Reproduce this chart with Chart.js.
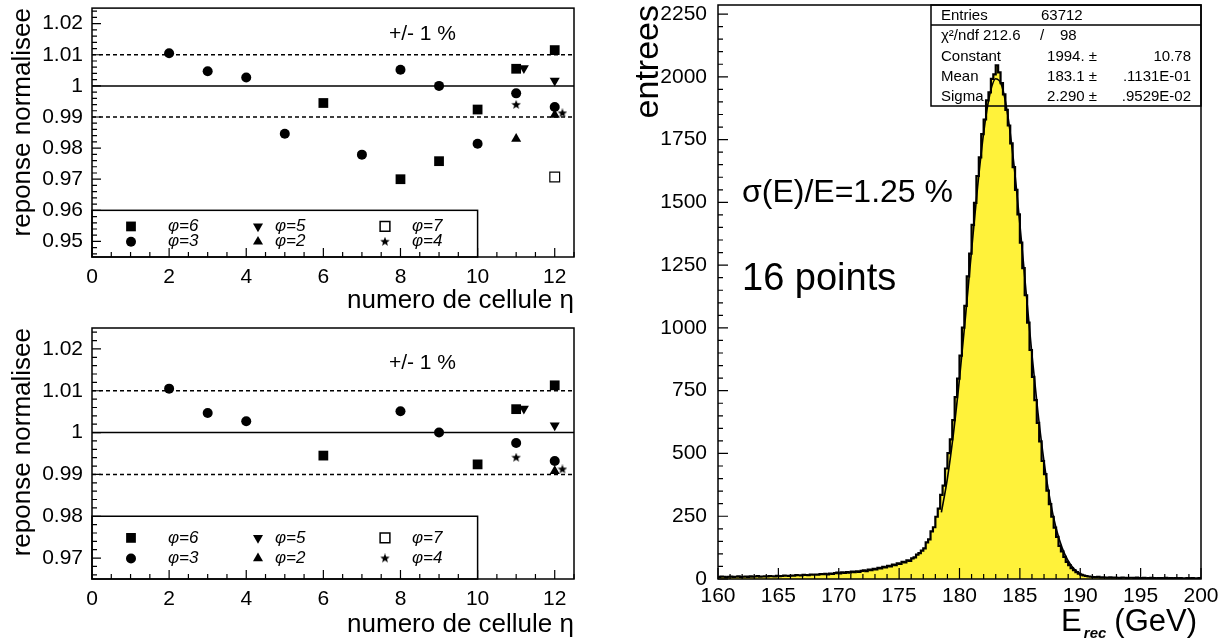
<!DOCTYPE html>
<html>
<head>
<meta charset="utf-8">
<script src="https://cdn.jsdelivr.net/npm/chart.js@4.4.1/dist/chart.umd.min.js"></script>
<style>
  body { margin: 0; background: #fff; }
  #wrap { position: relative; width: 1224px; height: 640px; overflow: hidden; }
  .panel { position: absolute; }
</style>
</head>
<body>
<div id="wrap">
  <div class="panel" style="left:0;top:0;width:600px;height:318px"><canvas id="topChart"></canvas></div>
  <div class="panel" style="left:0;top:320px;width:600px;height:320px"><canvas id="bottomChart"></canvas></div>
  <div class="panel" style="left:600px;top:0;width:624px;height:640px"><canvas id="histChart"></canvas></div>
</div>
<script>
const FONT = "'Liberation Sans', Arial, Helvetica, sans-serif";

// --- eta scan, all cells (top panel) ---
const topPhi6X = [6, 8, 9, 10, 11, 12];
const topPhi6Y = [0.9945, 0.9700, 0.9758, 0.9924, 1.0055, 1.0115];
const topPhi5X = [11.2, 12];
const topPhi5Y = [1.0057, 1.0017];
const topPhi7X = [12];
const topPhi7Y = [0.9707];
const topPhi3X = [2, 3, 4, 5, 7, 8, 9, 10, 11, 12];
const topPhi3Y = [1.0105, 1.0047, 1.0027, 0.9846, 0.9779, 1.0052, 1.0000, 0.9814, 0.9976, 0.9932];
const topPhi2X = [11, 12];
const topPhi2Y = [0.9830, 0.9907];
const topPhi4X = [11, 12.2];
const topPhi4Y = [0.9939, 0.9912];

// --- eta scan, retained cells (bottom panel) ---
const botPhi6X = [6, 10, 11, 12];
const botPhi6Y = [0.9945, 0.9924, 1.0056, 1.0113];
const botPhi5X = [11.2, 12];
const botPhi5Y = [1.0057, 1.0017];
const botPhi7X = [];
const botPhi7Y = [];
const botPhi3X = [2, 3, 4, 8, 9, 11, 12];
const botPhi3Y = [1.0105, 1.0047, 1.0027, 1.0051, 1.0000, 0.9975, 0.9932];
const botPhi2X = [12];
const botPhi2Y = [0.9908];
const botPhi4X = [11, 12.2];
const botPhi4Y = [0.9940, 0.9912];

const etaTicks = [0, 2, 4, 6, 8, 10, 12];
const respTicksTop = [0.95, 0.96, 0.97, 0.98, 0.99, 1, 1.01, 1.02];
const respTicksBot = [0.97, 0.98, 0.99, 1, 1.01, 1.02];
const nominal = 1.0;
const band = 0.01;

// --- reconstructed energy histogram, 0.2 GeV bins from 160 to 200 ---
const histMin = 160;
const histMax = 200;
const binWidth = 0.2;
const counts = [
  8, 10, 9, 7, 9, 10, 8, 9, 11, 8,
  9, 10, 8, 11, 9, 10, 12, 9, 10, 11,
  10, 12, 11, 10, 13, 11, 12, 14, 13, 12,
  14, 13, 16, 15, 14, 17, 16, 15, 18, 17,
  18, 17, 20, 19, 21, 18, 22, 20, 23, 25,
  22, 26, 24, 27, 25, 29, 27, 30, 28, 32,
  34, 31, 37, 35, 40, 38, 44, 42, 48, 46,
  52, 50, 57, 55, 62, 60, 68, 66, 74, 72,
  82, 86, 97, 103, 113,
  122, 146, 158, 190, 206,
  248, 280, 335, 372, 440,
  501, 556, 633, 724, 798,
  890, 1001, 1088, 1205, 1296,
  1410, 1498, 1605, 1679, 1772,
  1830, 1906, 1938, 1992, 2010,
  2046, 2018, 1975, 1930, 1868,
  1806, 1735, 1640, 1550, 1452,
  1340, 1238, 1130, 1021, 912,
  805, 712, 622, 548, 470,
  418, 352, 298, 248, 205,
  168, 132, 110, 88, 68,
  55, 43, 35, 27, 21,
  17, 14, 12, 10, 9,
  8, 7, 9, 6, 7, 6, 5, 7, 5, 6,
  5, 4, 6, 5, 4, 5, 5, 4, 6, 4,
  4, 5, 3, 4, 5, 4, 3, 4, 4, 3,
  5, 3, 4, 3, 4, 3, 4, 3, 3, 4,
  3, 4, 3, 3, 4
];
const fitX = [178.5, 179, 179.5, 180, 180.5, 181, 181.5, 182, 182.5, 183, 183.5,
  184, 184.5, 185, 185.5, 186, 186.5, 187, 187.5, 188, 188.5, 189, 189.5, 190, 190.5];
const fitY = [265, 401, 580, 798, 1047, 1309, 1562, 1777, 1927, 1992, 1964,
  1846, 1654, 1413, 1151, 894, 662, 468, 315, 202, 124, 72, 40, 21, 11];
const energyTicks = [160, 165, 170, 175, 180, 185, 190, 195, 200];
const entriesTicks = [0, 250, 500, 750, 1000, 1250, 1500, 1750, 2000, 2250];

const statNames = ['Entries', 'χ²/ndf', 'Constant', 'Mean', 'Sigma'];
const statValues = ['63712', '212.6', '1994. ±', '183.1 ±', '2.290 ±'];
const statErrors = ['', '98', '10.78', '.1131E-01', '.9529E-02'];

Chart.defaults.font.family = FONT;
Chart.defaults.color = '#000';

function starMarker(size) {
  const c = document.createElement('canvas');
  c.width = size; c.height = size;
  const g = c.getContext('2d');
  const r = size / 2, ri = r * 0.42;
  g.beginPath();
  for (let k = 0; k < 10; k++) {
    const rr = k % 2 ? ri : r;
    const ang = -Math.PI / 2 + k * Math.PI / 5;
    g.lineTo(r + rr * Math.cos(ang), r + rr * Math.sin(ang));
  }
  g.closePath();
  g.fillStyle = '#000';
  g.fill();
  return c;
}
const star = starMarker(10);

const looks = {
  phi6: { pointStyle: 'rect', pointRadius: 6.9, backgroundColor: '#000', borderColor: '#000', borderWidth: 0 },
  phi5: { pointStyle: 'triangle', pointRotation: 180, pointRadius: 5.8, backgroundColor: '#000', borderColor: '#000', borderWidth: 0 },
  phi7: { pointStyle: 'rect', pointRadius: 6.9, backgroundColor: '#fff', borderColor: '#000', borderWidth: 1.2 },
  phi3: { pointStyle: 'circle', pointRadius: 5, backgroundColor: '#000', borderColor: '#000', borderWidth: 0 },
  phi2: { pointStyle: 'triangle', pointRadius: 5.8, backgroundColor: '#000', borderColor: '#000', borderWidth: 0 },
  phi4: { pointStyle: star, pointRadius: 5, backgroundColor: '#000', borderColor: '#000', borderWidth: 0 }
};

function series(label, xs, ys, look) {
  return Object.assign({ label: label, data: xs.map((x, i) => ({ x: x, y: ys[i] })) }, look);
}

function tickList(min, max, step) {
  const out = [];
  const k0 = Math.ceil(min / step - 1e-6), k1 = Math.floor(max / step + 1e-6);
  for (let k = k0; k <= k1; k++) out.push(k * step);
  return out;
}

// keep the plot frame exactly where the layout padding puts it
function fixWidth(w) {
  return s => { s.width = w; s.paddingTop = 0; s.paddingBottom = 0; };
}
function fixHeight(h) {
  return s => { s.height = h; s.paddingLeft = 0; s.paddingRight = 0; };
}

// frame + inward major/minor ticks, ROOT style
const rootAxes = {
  id: 'rootAxes',
  afterDatasetsDraw(chart, args, o) {
    const { ctx, chartArea: a, scales } = chart;
    ctx.save();
    ctx.strokeStyle = '#000';
    ctx.lineWidth = 1.5;
    ctx.strokeRect(a.left, a.top, a.right - a.left, a.bottom - a.top);
    ctx.lineWidth = 1.2;
    ctx.beginPath();
    tickList(scales.x.min, scales.x.max, o.x.minor).forEach(v => {
      const major = Math.abs(v / o.x.major - Math.round(v / o.x.major)) < 1e-6;
      const px = scales.x.getPixelForValue(v);
      ctx.moveTo(px, a.bottom);
      ctx.lineTo(px, a.bottom - (major ? o.x.majorLen : o.x.minorLen));
    });
    tickList(scales.y.min, scales.y.max, o.y.minor).forEach(v => {
      const major = Math.abs(v / o.y.major - Math.round(v / o.y.major)) < 1e-6;
      const py = scales.y.getPixelForValue(v);
      ctx.moveTo(a.left, py);
      ctx.lineTo(a.left + (major ? o.y.majorLen : o.y.minorLen), py);
    });
    ctx.stroke();
    ctx.restore();
  }
};

// reference lines, legend box and band label for the eta panels
const etaPanel = {
  id: 'etaPanel',
  beforeDatasetsDraw(chart) {
    const { ctx, chartArea: a, scales: { y } } = chart;
    ctx.save();
    ctx.strokeStyle = '#000';
    ctx.lineWidth = 1.5;
    [nominal + band, nominal, nominal - band].forEach(v => {
      ctx.setLineDash(v === nominal ? [] : [4, 3]);
      const py = y.getPixelForValue(v);
      ctx.beginPath(); ctx.moveTo(a.left, py); ctx.lineTo(a.right, py); ctx.stroke();
    });
    ctx.restore();
  },
  afterDatasetsDraw(chart, args, o) {
    const { ctx, chartArea: a, scales: { x, y } } = chart;
    ctx.save();
    // legend box
    const bx0 = x.getPixelForValue(0), bx1 = x.getPixelForValue(o.boxRight);
    const by0 = y.getPixelForValue(o.boxTop), by1 = a.bottom;
    ctx.fillStyle = '#fff';
    ctx.fillRect(bx0, by0, bx1 - bx0, by1 - by0);
    ctx.strokeStyle = '#000';
    ctx.lineWidth = 1.5;
    ctx.strokeRect(bx0, by0, bx1 - bx0, by1 - by0);
    const colMarker = [39, 166, 293], colText = [76, 183, 320];
    const rowFrac = [0.345, 0.672];
    ctx.font = 'italic 17px ' + FONT;
    ctx.textBaseline = 'middle';
    chart.data.datasets.forEach((ds, i) => {
      const c = i % 3, r = Math.floor(i / 3);
      const py = by0 + (by1 - by0) * rowFrac[r];
      ctx.fillStyle = ds.backgroundColor;
      ctx.strokeStyle = ds.borderColor;
      Chart.helpers.drawPoint(ctx, {
        pointStyle: ds.pointStyle, rotation: ds.pointRotation || 0,
        radius: ds.pointRadius, borderWidth: ds.borderWidth
      }, bx0 + colMarker[c], py);
      ctx.fillStyle = '#000';
      ctx.fillText(ds.label, bx0 + colText[c], py);
    });
    // band label
    ctx.font = '21px ' + FONT;
    ctx.fillStyle = '#000';
    ctx.textBaseline = 'middle';
    ctx.fillText('+/- 1 %', x.getPixelForValue(7.7), y.getPixelForValue(1.0167));
    ctx.restore();
  }
};

function etaChart(id, sets, yMin, yTicks, boxTop, padTop, titlePadBottom) {
  return new Chart(document.getElementById(id), {
    type: 'scatter',
    data: { datasets: sets },
    options: {
      animation: false,
      responsive: true,
      maintainAspectRatio: false,
      layout: { padding: { top: padTop, right: 26, left: 0, bottom: 0 } },
      scales: {
        x: {
          type: 'linear', min: 0, max: 12.5,
          grid: { display: false, drawTicks: false }, border: { display: false },
          afterBuildTicks: s => { s.ticks = etaTicks.map(v => ({ value: v })); },
          afterFit: fixHeight(61),
          ticks: { padding: 8, autoSkip: false, maxRotation: 0, font: { size: 21 } },
          title: { display: true, text: 'numero de cellule η', align: 'end', font: { size: 26 }, padding: { top: 0, bottom: titlePadBottom } }
        },
        y: {
          type: 'linear', min: yMin, max: 1.025,
          grid: { display: false, drawTicks: false }, border: { display: false },
          afterBuildTicks: s => { s.ticks = yTicks.map(v => ({ value: v })); },
          afterFit: fixWidth(92),
          ticks: { padding: 9, autoSkip: false, font: { size: 21 }, callback: v => String(+v.toFixed(3)) },
          title: { display: true, text: 'reponse normalisee', align: 'end', font: { size: 26 }, padding: { top: 7, bottom: 0 } }
        }
      },
      plugins: {
        legend: { display: false },
        tooltip: { enabled: false },
        rootAxes: {
          x: { major: 2, minor: 0.5, majorLen: 9, minorLen: 5 },
          y: { major: 0.01, minor: 0.002, majorLen: 9, minorLen: 5 }
        },
        etaPanel: { boxTop: boxTop, boxRight: 10 }
      }
    },
    plugins: [etaPanel, rootAxes]
  });
}

etaChart('topChart', [
  series('φ=6', topPhi6X, topPhi6Y, looks.phi6),
  series('φ=5', topPhi5X, topPhi5Y, looks.phi5),
  series('φ=7', topPhi7X, topPhi7Y, looks.phi7),
  series('φ=3', topPhi3X, topPhi3Y, looks.phi3),
  series('φ=2', topPhi2X, topPhi2Y, looks.phi2),
  series('φ=4', topPhi4X, topPhi4Y, looks.phi4)
], 0.945, respTicksTop, 0.96, 5, 2);

etaChart('bottomChart', [
  series('φ=6', botPhi6X, botPhi6Y, looks.phi6),
  series('φ=5', botPhi5X, botPhi5Y, looks.phi5),
  series('φ=7', botPhi7X, botPhi7Y, looks.phi7),
  series('φ=3', botPhi3X, botPhi3Y, looks.phi3),
  series('φ=2', botPhi2X, botPhi2Y, looks.phi2),
  series('φ=4', botPhi4X, botPhi4Y, looks.phi4)
], 0.965, respTicksBot, 0.98, 8, 0);

// stats box, annotations and E_rec axis title for the histogram
const histExtras = {
  id: 'histExtras',
  beforeDatasetsDraw(chart) {
    const { ctx, chartArea: a } = chart;
    const left = a.right - 270, top = a.top;
    ctx.save();
    ctx.fillStyle = '#fff';
    ctx.fillRect(left, top, 270, 101);
    ctx.fillStyle = '#000';
    ctx.font = '15px ' + FONT;
    ctx.textBaseline = 'middle';
    statNames.forEach((name, i) => {
      const py = top + 11 + i * 20.2;
      ctx.textAlign = 'left';
      ctx.fillText(name, left + 10, py);
      if (i === 0) {
        ctx.fillText(statValues[i], left + 110, py);
      } else if (i === 1) {
        ctx.fillText(statValues[i], left + 52, py);
        ctx.fillText('/', left + 109, py);
        ctx.fillText(statErrors[i], left + 129, py);
      } else {
        ctx.textAlign = 'right';
        ctx.fillText(statValues[i], left + 166, py);
        ctx.fillText(statErrors[i], left + 260, py);
      }
    });
    ctx.restore();
  },
  afterDatasetsDraw(chart) {
    const { ctx, chartArea: a } = chart;
    const left = a.right - 270, top = a.top;
    ctx.save();
    ctx.strokeStyle = '#000';
    ctx.lineWidth = 1.5;
    ctx.strokeRect(left, top, 270, 101);
    ctx.beginPath(); ctx.moveTo(left, top + 20); ctx.lineTo(a.right, top + 20); ctx.stroke();

    ctx.fillStyle = '#000';
    ctx.textBaseline = 'middle';
    ctx.textAlign = 'left';
    ctx.font = '32px ' + FONT;
    ctx.fillText('σ(E)/E=1.25 %', a.left + 24, 193);
    ctx.font = '38px ' + FONT;
    ctx.fillText('16 points', a.left + 24, 280);

    // E_rec (GeV)
    ctx.textBaseline = 'alphabetic';
    ctx.textAlign = 'right';
    const base = 631;
    let xr = a.right - 4;
    ctx.font = '31px ' + FONT;
    ctx.fillText('(GeV)', xr, base);
    xr -= ctx.measureText('(GeV)').width + 8;
    ctx.font = 'bold italic 15px ' + FONT;
    ctx.fillText('rec', xr, base + 7);
    xr -= ctx.measureText('rec').width + 2;
    ctx.font = '31px ' + FONT;
    ctx.fillText('E', xr, base);
    ctx.restore();
  }
};

const histPoints = counts.map((c, i) => ({ x: histMin + i * binWidth, y: c }));
histPoints.push({ x: histMax, y: counts[counts.length - 1] });
const fitPoints = fitX.map((x, i) => ({ x: x, y: fitY[i] }));

new Chart(document.getElementById('histChart'), {
  type: 'line',
  data: {
    datasets: [
      { label: 'gaus fit', data: fitPoints, borderColor: '#000', borderWidth: 1.6, pointRadius: 0, cubicInterpolationMode: 'monotone', fill: false },
      { label: 'E_rec', data: histPoints, stepped: 'before', borderColor: '#000', borderWidth: 2.2, backgroundColor: '#fff23a', fill: 'origin', pointRadius: 0 }
    ]
  },
  options: {
    animation: false,
    responsive: true,
    maintainAspectRatio: false,
    layout: { padding: { top: 5, right: 23, left: 0, bottom: 0 } },
    scales: {
      x: {
        type: 'linear', min: histMin, max: histMax,
        grid: { display: false, drawTicks: false }, border: { display: false },
        afterBuildTicks: s => { s.ticks = energyTicks.map(v => ({ value: v })); },
        afterFit: fixHeight(61),
        ticks: { padding: 5, autoSkip: false, maxRotation: 0, font: { size: 21 } }
      },
      y: {
        type: 'linear', min: 0, max: 2286,
        grid: { display: false, drawTicks: false }, border: { display: false },
        afterBuildTicks: s => { s.ticks = entriesTicks.map(v => ({ value: v })); },
        afterFit: fixWidth(118),
        ticks: { padding: 11, autoSkip: false, font: { size: 21 }, callback: v => String(v) },
        title: { display: true, text: 'entrees', align: 'end', font: { size: 34 }, padding: { top: 28, bottom: 0 } }
      }
    },
    plugins: {
      legend: { display: false },
      tooltip: { enabled: false },
      rootAxes: {
        x: { major: 5, minor: 1, majorLen: 11, minorLen: 5 },
        y: { major: 250, minor: 50, majorLen: 10, minorLen: 5 }
      }
    }
  },
  plugins: [histExtras, rootAxes]
});
</script>
</body>
</html>
